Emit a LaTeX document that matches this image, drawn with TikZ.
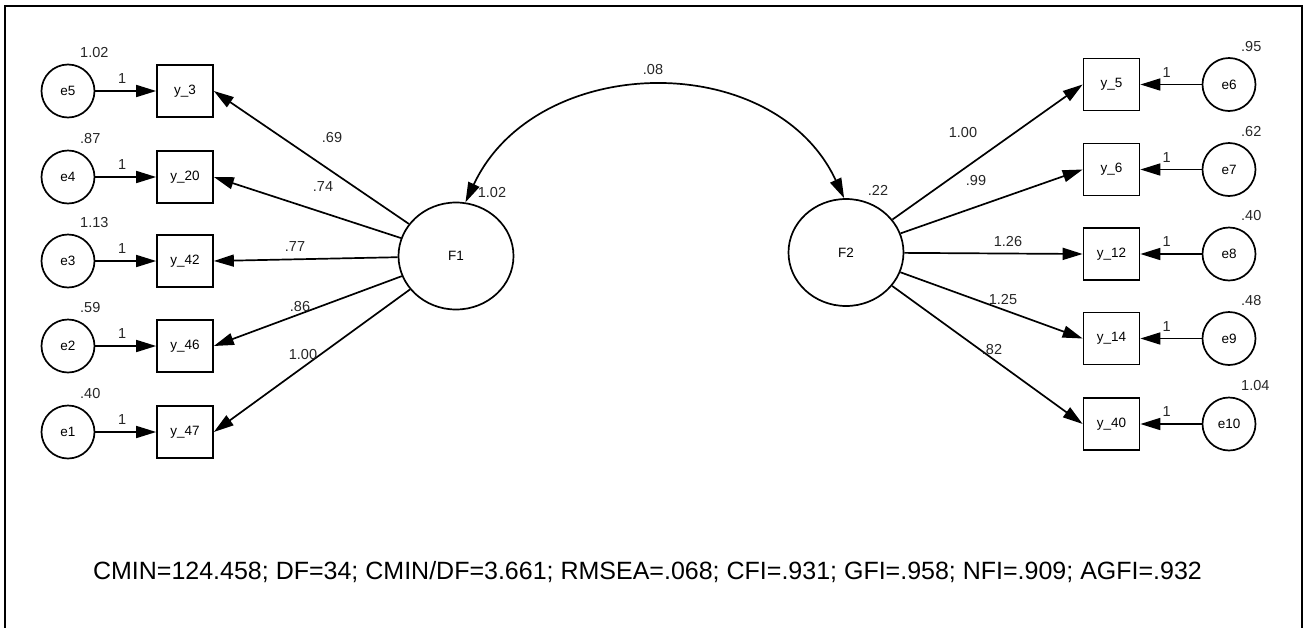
\documentclass[tikz,border=0pt]{standalone}
\usepackage{fontspec}
\setmainfont{Liberation Sans}
\usetikzlibrary{arrows.meta,shapes.geometric}
\begin{document}
\begin{tikzpicture}[x=1pt,y=-1pt,
  lw/.style={line width=1.7pt},
  obs/.style={draw,lw,rectangle,minimum width=56pt,minimum height=52pt,inner sep=0pt,font=\fontsize{13.5}{15}\selectfont},
  err/.style={draw,lw,circle,minimum size=53pt,inner sep=0pt,font=\fontsize{13.5}{15}\selectfont},
  lat/.style={draw,lw,ellipse,minimum width=115pt,minimum height=107pt,inner sep=0pt,font=\fontsize{13.5}{15}\selectfont},
  val/.style={inner sep=0pt,text=black!85,font=\fontsize{14.5}{16}\selectfont},
  one/.style={val,yshift=12pt},
  arr/.style={lw,-{Triangle[length=20pt,width=12pt]}},
  darr/.style={lw,{Triangle[length=20pt,width=12pt]}-{Triangle[length=20pt,width=12pt]}}
]
\useasboundingbox (0,0) rectangle (1307,627);
\draw[line width=2pt] (4.5,5.5) rectangle (1301.5,629);

% latent variables
\node[lat] (F1) at (456,256) {F1};
\node[lat] (F2) at (846,252.5) {F2};

% left side
\node[obs] (y3)  at (185,91)  {y\_3};
\node[obs] (y20) at (185,177) {y\_20};
\node[obs] (y42) at (185,261) {y\_42};
\node[obs] (y46) at (185,346) {y\_46};
\node[obs] (y47) at (185,432) {y\_47};
\node[err] (e5) at (68,91)  {e5};
\node[err] (e4) at (68,177) {e4};
\node[err] (e3) at (68,261) {e3};
\node[err] (e2) at (68,346) {e2};
\node[err] (e1) at (68,432) {e1};

% right side
\node[obs] (y5)  at (1111.5,84.5)  {y\_5};
\node[obs] (y6)  at (1111.5,169.5) {y\_6};
\node[obs] (y12) at (1111.5,254)   {y\_12};
\node[obs] (y14) at (1111.5,338.5) {y\_14};
\node[obs] (y40) at (1111.5,424)   {y\_40};
\node[err] (e6)  at (1229,84.5)  {e6};
\node[err] (e7)  at (1229,169.5) {e7};
\node[err] (e8)  at (1229,254)   {e8};
\node[err] (e9)  at (1229,338.5) {e9};
\node[err] (e10) at (1229,424)   {e10};

% error arrows
\draw[arr] (e5) -- node[one,pos=0.44] {1} (y3);
\draw[arr] (e4) -- node[one,pos=0.44] {1} (y20);
\draw[arr] (e3) -- node[one,pos=0.44] {1} (y42);
\draw[arr] (e2) -- node[one,pos=0.44] {1} (y46);
\draw[arr] (e1) -- node[one,pos=0.44] {1} (y47);
\draw[arr] (e6)  -- node[one,pos=0.57] {1} (y5);
\draw[arr] (e7)  -- node[one,pos=0.57] {1} (y6);
\draw[arr] (e8)  -- node[one,pos=0.57] {1} (y12);
\draw[arr] (e9)  -- node[one,pos=0.57] {1} (y14);
\draw[arr] (e10) -- node[one,pos=0.57] {1} (y40);

% error variances
\node[val,anchor=west] (v5) at (80,53)  {1.02};
\node[val,anchor=west] (v4) at (80,139) {.87};
\node[val,anchor=west] (v3) at (80,223) {1.13};
\node[val,anchor=west] (v2) at (80,308) {.59};
\node[val,anchor=west] (v1) at (80,394) {.40};
\node[val,anchor=west] (v6)  at (1241,46.5)  {.95};
\node[val,anchor=west] (v7)  at (1241,131.5) {.62};
\node[val,anchor=west] (v8)  at (1241,216)   {.40};
\node[val,anchor=west] (v9)  at (1241,300.5) {.48};
\node[val,anchor=west] (v10) at (1241,386)   {1.04};

% loadings
\draw[arr] (F1) -- (y3.east);
\draw[arr] (F1) -- (y20.east);
\draw[arr] (F1) -- (y42.east);
\draw[arr] (F1) -- (y46.east);
\draw[arr] (F1) -- (y47.east);
\draw[arr] (F2) -- (y5.west);
\draw[arr] (F2) -- (y6.west);
\draw[arr] (F2) -- (y12.west);
\draw[arr] (F2) -- (y14.west);
\draw[arr] (F2) -- (y40.west);

\node[val] (l3)  at (332,138) {.69};
\node[val] (l20) at (323,187) {.74};
\node[val] (l42) at (295,247) {.77};
\node[val] (l46) at (300,307) {.86};
\node[val] (l47) at (303,355) {1.00};
\node[val] (l5)  at (963,133)  {1.00};
\node[val] (l6)  at (976,181)  {.99};
\node[val] (l12) at (1008,242) {1.26};
\node[val] (l14) at (1003,300) {1.25};
\node[val] (l40) at (992,350)  {.82};

% factor variances and covariance
\node[val] (vF1) at (492,193) {1.02};
\node[val] (vF2) at (878,190) {.22};
\draw[darr] (F1.80) to[out=65,in=115,looseness=1.12] (F2.92);
\node[val] (cov) at (653,70) {.08};

% fit indices
\node[inner sep=0pt,anchor=base,font=\fontsize{25}{30}\selectfont] (fit) at (647.5,579)
  {CMIN=124.458; DF=34; CMIN/DF=3.661; RMSEA=.068; CFI=.931; GFI=.958; NFI=.909; AGFI=.932};
\end{tikzpicture}
\end{document}
